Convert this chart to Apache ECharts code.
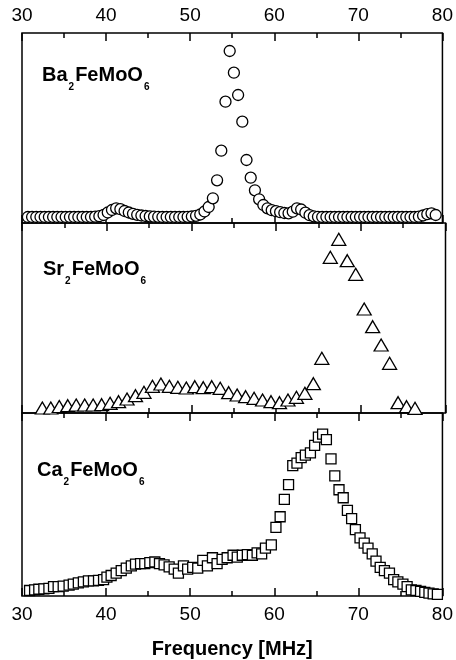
<!DOCTYPE html>
<html>
<head>
<meta charset="utf-8">
<script src="https://cdn.jsdelivr.net/npm/echarts@6/dist/echarts.min.js"></script>
<style>
html,body{margin:0;padding:0;background:#fff;}
#c{width:456px;height:660px;}
</style>
</head>
<body>
<div id="c"></div>
<script>
// Frequency axis ticks
const xTicks = [30, 40, 50, 60, 70, 80];

// Ba2FeMoO6 (circles)
const baX = [30.7,31.2,31.7,32.2,32.7,33.2,33.7,34.2,34.7,35.2,35.7,36.2,36.7,37.2,37.7,38.2,38.7,39.2,39.7,40.2,
  40.7,41.2,41.7,42.2,42.7,43.2,43.7,44.2,44.7,45.2,45.7,46.2,46.7,47.2,47.7,48.2,48.7,49.2,49.7,50.2,
  50.7,51.2,51.7,52.2,52.7,53.2,53.7,54.2,54.7,55.2,55.7,56.2,56.7,57.2,57.7,58.2,58.7,59.2,59.7,60.2,
  60.7,61.2,61.7,62.2,62.7,63.2,63.7,64.2,64.7,65.2,65.7,66.2,66.7,67.2,67.7,68.2,68.7,69.2,69.7,70.2,
  70.7,71.2,71.7,72.2,72.7,73.2,73.7,74.2,74.7,75.2,75.7,76.2,76.7,77.2,77.7,78.2,78.7,79.2];
const baY = [6,6,6,6,6,6,6,6,6,6,6,6,6,6,6,6,6.3,6.8,8,10.5,
  13,14.7,13.8,12,10.5,9.2,8.2,7.5,7,6.6,6.3,6.2,6,6,6,6,6,6,6.2,6.5,
  7.2,8.5,11.5,16,24.7,42.7,72.3,121.3,172,150.3,128,101.3,63,45.3,32.7,23.7,18,14.7,12.8,11.8,
  10.8,10,9.7,11.3,14.7,13.5,10.3,7.8,6.6,6.2,6,6,6,6,6,6,6,6,6,6,
  6,6,6,6,6,6,6,6,6,6,6,6,6,6.3,7.5,8.8,9.7,8];

// Sr2FeMoO6 (triangles)
const srX = [32.4,33.4,34.4,35.4,36.4,37.4,38.4,39.4,40.4,41.4,42.4,43.4,44.4,45.4,46.4,47.4,48.4,49.4,50.4,51.4,
  52.4,53.4,54.4,55.4,56.4,57.4,58.4,59.4,60.4,61.4,62.4,63.4,64.4,65.4,66.4,67.4,68.4,69.4,70.4,71.4,
  72.4,73.4,74.4,75.4,76.4];
const srY = [5,5,6.5,7.3,8,8,8,8.3,9.7,11.3,14,17.3,20.7,26.7,29,26.7,25.7,25,26.3,25.3,
  26.3,24.7,20.3,18,16.3,14.7,13,11.3,10.3,13,15.7,19.7,29.3,54.7,155.7,173.7,152.3,138.7,104,86.3,
  68,49.7,10.3,6.3,4.7];

// Ca2FeMoO6 (squares)
const caX = [30.9,31.5,32.0,32.6,33.2,33.75,34.3,34.9,35.6,36.1,36.7,37.3,37.9,38.5,39.1,39.7,40.1,40.6,41.2,41.8,
  42.4,43.0,43.5,44.1,44.6,45.2,45.8,46.35,46.9,47.5,48.1,48.6,49.2,49.7,50.3,50.9,51.5,52.05,52.65,53.2,
  53.8,54.4,55.1,55.6,56.2,56.8,57.4,57.96,58.5,58.95,59.65,60.2,60.7,61.2,61.7,62.2,62.7,63.2,63.7,64.3,
  64.8,65.25,65.75,66.2,66.75,67.2,67.7,68.2,68.7,69.2,69.65,70.2,70.7,71.15,71.65,72.1,72.6,73.1,73.7,74.2,
  74.7,75.3,75.8,76.3,76.85,77.4,77.9,78.4,78.9,79.4];
const caY = [5.7,6.3,7,7.3,8,9.7,9.7,10.3,11.3,12.3,13.7,14.7,15.7,15.7,16.3,17,19.7,21.3,23.7,26.3,
  29,31.3,33,33.7,33.7,34.7,35.3,33.7,32.3,30.3,28,23.7,31.3,28,29.7,29,37,31.3,39.7,33.7,
  38,39.7,42.3,40.3,42.3,43,42.3,44.7,43.7,49.7,53,71.3,82.3,100.3,115.7,135.3,138,143.7,146.3,148.7,
  156.3,165,168,162.3,142.3,124.7,110.3,102,89,80.3,69,60.3,55,49.7,43.7,36.3,29.7,26.3,23.7,17,
  14.7,12.3,9.7,6.3,5.7,4.7,3.7,3,2.3,1.7];

const labels = [
  ['Ba', '2', 'FeMoO', '6'],
  ['Sr', '2', 'FeMoO', '6'],
  ['Ca', '2', 'FeMoO', '6']
];

const FONT = 'Liberation Sans, Arial, sans-serif';
const chart = echarts.init(document.getElementById('c'), null, {renderer: 'canvas'});

const grids = [], xAxes = [], yAxes = [], series = [], titles = [];
const panelTop = [33, 223, 413];
const labelPos = [[42, 65], [43, 259.5], [37, 460]];
const sets = [
  {x: baX, y: baY, symbol: 'circle', size: 11},
  {x: srX, y: srY, symbol: 'triangle', size: [14, 12]},
  {x: caX, y: caY, symbol: 'rect', size: 10}
];

for (let i = 0; i < 3; i++) {
  grids.push({left: 22, width: 423.5, top: panelTop[i], height: 190, show: true,
    borderColor: '#000', borderWidth: 1.5, backgroundColor: 'rgba(0,0,0,0)'});
  ['bottom', 'top'].forEach(pos => {
    const showLabel = (i === 0 && pos === 'top') || (i === 2 && pos === 'bottom');
    const ax = {
      type: 'value', gridIndex: i, position: pos, min: xTicks[0], max: xTicks[xTicks.length - 1], interval: 10,
      axisLine: {show: false},
      axisTick: {show: true, inside: true, length: 8, lineStyle: {color: '#000', width: 1.5}},
      minorTick: {show: true, splitNumber: 2, length: 5, lineStyle: {color: '#000', width: 1.5}},
      splitLine: {show: false},
      axisLabel: {show: showLabel, color: '#000', fontSize: 19, fontFamily: FONT, margin: pos === 'top' ? 8 : 9}
    };
    if (i === 2 && pos === 'bottom') {
      ax.name = 'Frequency [MHz]';
      ax.nameLocation = 'middle';
      ax.nameGap = 43;
      ax.nameTextStyle = {color: '#000', fontSize: 20, fontWeight: 'bold', fontFamily: FONT};
    }
    xAxes.push(ax);
  });
  yAxes.push({type: 'value', gridIndex: i, min: 0, max: 190, show: false});
  const s = sets[i];
  series.push({
    type: 'scatter', xAxisIndex: 2 * i, yAxisIndex: i,
    symbol: s.symbol, symbolSize: s.size,
    itemStyle: {color: '#fff', borderColor: '#000', borderWidth: 1.3, opacity: 1},
    emphasis: {disabled: true},
    data: s.x.map((v, k) => [v, s.y[k]])
  });
  const L = labels[i];
  titles.push({
    left: labelPos[i][0], top: labelPos[i][1], padding: 0,
    text: '{a|' + L[0] + '}{s|' + L[1] + '}{a|' + L[2] + '}{s|' + L[3] + '}',
    textStyle: {
      rich: {
        a: {fontSize: 20, fontWeight: 'bold', fontFamily: FONT, color: '#000', lineHeight: 20, verticalAlign: 'top'},
        s: {fontSize: 10, fontWeight: 'bold', fontFamily: FONT, color: '#000', lineHeight: 10, verticalAlign: 'top', padding: [17, 1, 0, 1]}
      }
    }
  });
}

chart.setOption({
  animation: false,
  backgroundColor: '#fff',
  title: titles,
  grid: grids,
  xAxis: xAxes,
  yAxis: yAxes,
  series: series
});
</script>
</body>
</html>
